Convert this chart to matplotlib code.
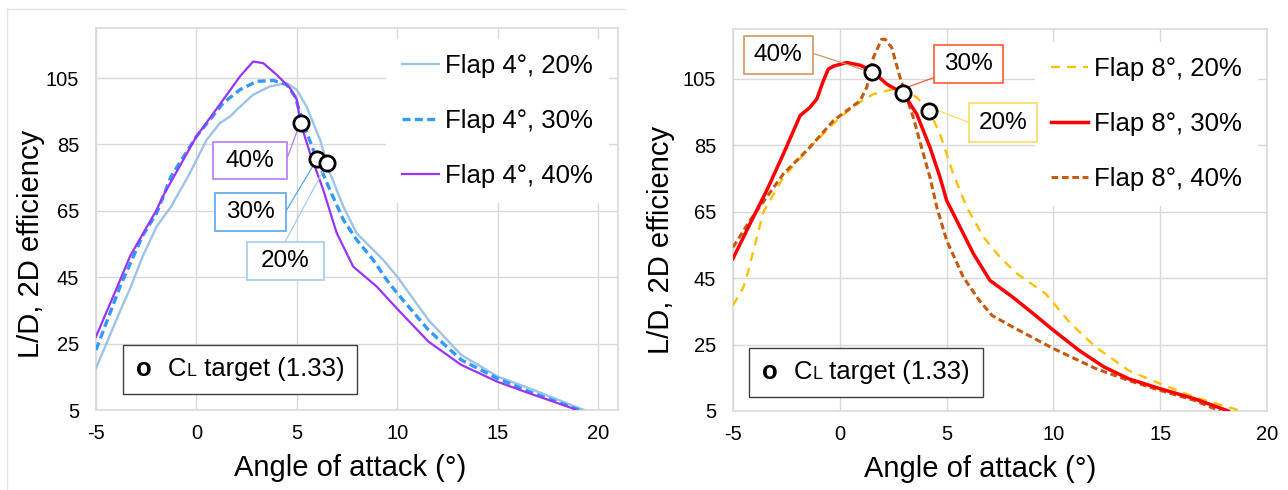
import matplotlib
matplotlib.use("Agg")
import matplotlib.pyplot as plt
from matplotlib.patches import Rectangle
from matplotlib.lines import Line2D
from matplotlib.offsetbox import TextArea, HPacker, AnchoredOffsetbox

plt.rcParams['font.family'] = ['Liberation Sans', 'DejaVu Sans']
plt.rcParams['axes.unicode_minus'] = False

# ---------------- data ----------------
# Flap 4 deg
aoa_4_20 = [-5, -3.7, -3.31, -2.68, -1.98, -1.26, -0.32, 0.51, 1.18, 1.67, 2.0, 2.83, 3.67, 4.5, 5.0, 5.49, 6.16, 6.65, 7.32, 7.98, 8.65, 9.31, 10, 11.56, 13.19, 15, 16.6, 19.3]
ld_4_20 = [17.6, 36.2, 41.5, 51.2, 60.3, 66.3, 76.4, 86.4, 91.5, 93.4, 95.4, 100.0, 102.5, 103.5, 101.5, 96.4, 86.4, 76.4, 66.3, 58.3, 54.2, 50.2, 45.2, 32.1, 21.6, 15.1, 11.5, 5]

aoa_4_30 = [-5, -3.8, -2.68, -1.98, -1.26, 0, 1.34, 2.17, 3.0, 3.83, 4.5, 4.91, 5.32, 6.0, 6.65, 7.32, 7.98, 8.81, 9.48, 10, 11.56, 13.19, 15, 16.6, 19.08]
ld_4_30 = [23.1, 42.2, 57.5, 64.3, 75.4, 87.4, 97.5, 101.5, 104.0, 104.3, 103.0, 99.5, 91.4, 80.6, 71.3, 62.3, 56.3, 50.2, 44.2, 40.2, 29.1, 20.1, 14.5, 10.5, 5]

aoa_4_40 = [-5, -3.97, -3.29, -1.98, -1.66, 0, 1.34, 2.17, 2.83, 3.33, 4.0, 4.66, 5.0, 5.19, 5.66, 6.32, 6.99, 7.81, 8.98, 10, 11.56, 13.19, 15, 16.6, 18.88]
ld_4_40 = [27.1, 41.7, 51.5, 65.3, 69.5, 87.4, 98.5, 105.5, 110.0, 109.5, 106.0, 102.0, 98.5, 91.4, 82.4, 71.3, 58.3, 48.2, 42.2, 35.5, 25.6, 18.6, 13.5, 10, 5.2]

target_aoa_4 = [5.19, 5.99, 6.49]
target_ld_4 = [91.4, 80.7, 79.4]

# Flap 8 deg
aoa_8_20 = [-5, -4.53, -4.36, -3.58, -2.64, -1.4, 0.0, 0.95, 1.57, 2.82, 3.6, 4.19, 4.69, 5.31, 5.94, 6.72, 7.5, 8.28, 9.64, 10.81, 11.97, 13.52, 15, 16.6, 18.8]
ld_8_20 = [36.8, 42.0, 45.3, 64.9, 75.4, 84.4, 93.4, 98.0, 100.4, 102.4, 99.4, 95.4, 88.4, 76.4, 66.4, 57.4, 51.3, 46.4, 40.3, 31.3, 24.3, 17.2, 13.2, 9.2, 5]

aoa_8_30 = [-5, -4.2, -3.42, -2.64, -1.86, -1.4, -1.08, -0.77, -0.54, -0.3, 0.32, 0.95, 1.49, 2.2, 2.97, 3.6, 4.22, 4.69, 5.0, 5.47, 6.25, 7.03, 8.09, 9.06, 10, 11.19, 12.36, 13.52, 15, 16.6, 18.19]
ld_8_30 = [50.9, 61.4, 71.4, 82.4, 93.9, 96.4, 98.9, 104.4, 107.9, 108.8, 109.9, 109.1, 107.5, 103.4, 100.6, 94.4, 84.4, 75.4, 68.4, 62.4, 52.4, 44.3, 39.3, 34.3, 29.3, 23.3, 18.3, 14.7, 11.7, 8.7, 5]

aoa_8_40 = [-5, -4.2, -2.64, -1.4, -0.3, 0.95, 1.26, 1.57, 1.96, 2.12, 2.43, 2.82, 3.44, 3.91, 4.22, 4.54, 5.0, 5.78, 6.53, 7.12, 8.09, 10, 11.97, 13.52, 15, 16.6, 17.8]
ld_8_40 = [54.3, 62.4, 76.4, 84.4, 92.4, 98.4, 102.4, 111.4, 116.9, 116.9, 114.4, 105.4, 93.4, 82.4, 75.4, 66.4, 56.4, 45.3, 38.3, 33.8, 30.3, 23.8, 17.8, 14.2, 11.2, 8.2, 5]

target_aoa_8 = [1.49, 2.97, 4.19]
target_ld_8 = [107.0, 100.6, 95.4]

flap_pct = ['20%', '30%', '40%']
x_ticks = [-5, 0, 5, 10, 15, 20]
y_ticks = [5, 25, 45, 65, 85, 105]

# ---------------- styles ----------------
C_LB, C_B, C_P = '#9dc3e6', '#3399ff', '#9933ff'
C_Y, C_R, C_BR = '#ffc000', '#ff0000', '#c55a11'
GRID = '#d9d9d9'

fig = plt.figure(figsize=(12.88, 4.9), dpi=100)
W, H = 1288, 490

# faint chart-area frame around the left chart
fig.add_artist(Line2D([7 / W, 625 / W], [1 - 9.5 / H, 1 - 9.5 / H], color='#e3e3e3', lw=1))
fig.add_artist(Line2D([7 / W, 7 / W], [0, 1 - 9.5 / H], color='#e3e3e3', lw=1))

ax1 = fig.add_axes([96 / W, 1 - 410 / H, (618 - 96) / W, (410 - 28.3) / H])
ax2 = fig.add_axes([733 / W, 1 - 411 / H, (1267 - 733) / W, (411 - 29) / H])


def style_axes(ax, xmax):
    ax.set_xlim(-5, xmax)
    ax.set_ylim(5, 120)
    ax.set_xticks(x_ticks)
    ax.set_yticks(y_ticks)
    ax.grid(True, color=GRID, lw=1)
    ax.set_axisbelow(True)
    for s in ax.spines.values():
        s.set_color(GRID)
        s.set_linewidth(1.2)
    ax.tick_params(axis='both', length=0, labelsize=14.5, colors='black')
    ax.tick_params(axis='y', pad=12)
    ax.tick_params(axis='x', pad=10)
    ax.set_xlabel('Angle of attack (°)', fontsize=21)
    ax.set_ylabel('L/D, 2D efficiency', fontsize=21)


style_axes(ax1, 21)
style_axes(ax2, 20)
ax1.xaxis.set_label_coords(0.487, -0.115)
ax1.yaxis.set_label_coords(-0.097, 0.435)
ax2.xaxis.set_label_coords(0.4625, -0.115)
ax2.yaxis.set_label_coords(-0.108, 0.448)

# ---------------- curves ----------------
ax1.plot(aoa_4_20, ld_4_20, color=C_LB, lw=1.7, label='Flap 4°, ' + flap_pct[0], zorder=3)
ax1.plot(aoa_4_30, ld_4_30, color=C_B, lw=2.4, dashes=(2.4, 1.3), label='Flap 4°, ' + flap_pct[1], zorder=4)
ax1.plot(aoa_4_40, ld_4_40, color=C_P, lw=1.6, label='Flap 4°, ' + flap_pct[2], zorder=5)
ax1.plot(target_aoa_4, target_ld_4, ls='none', marker='o', ms=11, mfc='white', mec='black', mew=2, zorder=8)

ax2.plot(aoa_8_20, ld_8_20, color=C_Y, lw=1.7, dashes=(3.8, 3.0), label='Flap 8°, ' + flap_pct[0], zorder=3)
ax2.plot(aoa_8_30, ld_8_30, color=C_R, lw=2.5, label='Flap 8°, ' + flap_pct[1], zorder=5)
ax2.plot(aoa_8_40, ld_8_40, color=C_BR, lw=2.2, dashes=(2.2, 1.2), label='Flap 8°, ' + flap_pct[2], zorder=4)
ax2.plot(target_aoa_8, target_ld_8, ls='none', marker='o', ms=11, mfc='white', mec='black', mew=2, zorder=8)


# ---------------- callout boxes ----------------
def callout(ax, text, x0, x1, y0, y1, color, line_from, line_to):
    ax.plot([line_from[0], line_to[0]], [line_from[1], line_to[1]], color=color, lw=0.9, zorder=6)
    ax.add_patch(Rectangle((x0, y0), x1 - x0, y1 - y0, facecolor='white', edgecolor=color, lw=1.2, zorder=7))
    ax.text((x0 + x1) / 2, (y0 + y1) / 2, text, ha='center', va='center', fontsize=17.5, zorder=8)


callout(ax1, flap_pct[2], 0.81, 4.52, 74.6, 85.6, '#b77cf2', (4.52, 80.9), (5.07, 89.9))
callout(ax1, flap_pct[1], 0.94, 4.45, 58.8, 70.3, '#5ca7ec', (4.45, 64.8), (5.85, 79.0))
callout(ax1, flap_pct[0], 2.51, 6.37, 44.2, 55.6, '#a9cbe9', (4.41, 55.6), (6.33, 77.2))

callout(ax2, flap_pct[2], -4.49, -1.27, 106.6, 117.9, '#d6955e', (-1.27, 112.7), (1.26, 107.4))
callout(ax2, flap_pct[1], 4.42, 7.65, 103.7, 115.1, '#ff5a3c', (4.42, 105.4), (3.13, 102.4))
callout(ax2, flap_pct[0], 6.04, 9.24, 86.1, 97.6, '#ffd966', (6.04, 91.9), (4.38, 96.0))

# ---------------- legends ----------------
for ax, anchor in ((ax1, (0.556, 0.972)), (ax2, (0.566, 0.967))):
    leg = ax.legend(loc='upper left', bbox_to_anchor=anchor, fontsize=18.5, frameon=True,
                    fancybox=False, framealpha=1, facecolor='white', edgecolor='none',
                    handlelength=1.45, handletextpad=0.25, labelspacing=1.2,
                    borderpad=0.6, borderaxespad=0)
    leg.set_zorder(6)


def target_box(ax, anchor):
    fp = dict(size=18.5, family=['Liberation Sans', 'DejaVu Sans'])
    o = TextArea('o', textprops=dict(size=18.5, weight='bold', family=['Liberation Sans']))
    c = TextArea('C', textprops=fp)
    l = TextArea('L', textprops=dict(size=13, family=['Liberation Sans']))
    rest = TextArea(' target (1.33)', textprops=fp)
    inner = HPacker(children=[c, l, rest], sep=0, pad=0, align='baseline')
    outer = HPacker(children=[o, inner], sep=12, pad=0, align='baseline')
    box = AnchoredOffsetbox(loc='lower left', child=outer, pad=0.5, borderpad=0,
                            frameon=True, bbox_to_anchor=anchor,
                            bbox_transform=ax.transAxes, prop=dict(size=18))
    box.patch.set_edgecolor('#404040')
    box.patch.set_linewidth(1.0)
    box.patch.set_boxstyle('square', pad=0)
    box.set_zorder(9)
    ax.add_artist(box)


target_box(ax1, (0.052, 0.042))
target_box(ax2, (0.030, 0.037))

fig.savefig('out.png', dpi=100, facecolor='white')
